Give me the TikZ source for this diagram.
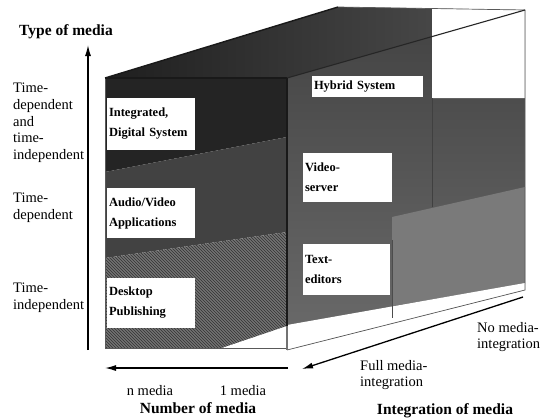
\documentclass[tikz,border=0pt]{standalone}
\usepackage{fontspec}
\setmainfont{Liberation Serif}
\usetikzlibrary{arrows.meta,patterns}
\begin{document}
\begin{tikzpicture}[x=1pt,y=-1pt,
  axislbl/.style={font=\fontsize{14.5}{16.6}\selectfont, align=left, inner sep=0pt, anchor=north west},
  axistitle/.style={font=\fontsize{15.5}{17}\selectfont\bfseries, inner sep=0pt},
  ticklbl/.style={font=\fontsize{14.5}{16.6}\selectfont, inner sep=0pt},
  lblbox/.style={fill=white, inner xsep=2pt, inner ysep=0pt, align=left, font=\fontsize{12.5}{20}\selectfont\bfseries},
  axisarrow/.style={line width=1.3pt, -{Latex[length=11pt,width=6pt]}},
  boxline/.style={draw=black!65, line width=0.7pt},
  darkline/.style={draw=black!90, line width=1.4pt}]
\useasboundingbox (0,0) rectangle (543,418);
% cube corners
\coordinate (FTL) at (105,78);
\coordinate (FTR) at (287,78);
\coordinate (FBL) at (105,348);
\coordinate (FBR) at (287,348);
\coordinate (BTL) at (338,7);
\coordinate (BTR) at (525,10);
\coordinate (BBR) at (525,290);
\coordinate (RBL) at (287,350);
% top face
\shade[left color=black!88, right color=black!68] (FTL) -- (BTL) -- (BTR) -- (FTR) -- cycle;
% right face
\shade[top color=black!74, bottom color=black!58] (FTR) -- (BTR) -- (BBR) -- (RBL) -- cycle;
\fill[black!52] (392,217) -- (525,187) -- (525,284) -- (392,306) -- cycle;
% front face bands
\fill[black!86] (105,78) -- (287,78) -- (287,137) -- (105,172) -- cycle;
\fill[black!74] (105,172) -- (287,137) -- (287,232) -- (105,258) -- cycle;
\fill[black!55] (105,258) -- (287,232) -- (287,348) -- (105,348) -- cycle;
\fill[pattern=north west lines, pattern color=black!80] (105,258) -- (287,232) -- (287,348) -- (105,348) -- cycle;
% white regions
\fill[white] (222,348) -- (287,348) -- (287,326) -- cycle;
\fill[white] (432,8.5) -- (525,10) -- (525,98) -- (432,98) -- cycle;
\fill[white] (287,350) -- (287,325) -- (525,283) -- (525,290) -- cycle;
% label boxes on front face
\node[lblbox, text width=84pt, minimum height=52pt] (ids) at (151,124) {Integrated,\\Digital System};
\node[lblbox, text width=84pt, minimum height=50pt] (ava) at (151,213) {Audio/Video\\Applications};
\node[lblbox, text width=84pt, minimum height=50pt] (dtp) at (151,303) {Desktop\\Publishing};
% label boxes on side face
\node[lblbox, text width=107pt, minimum height=21pt] (hyb) at (367.5,86.5) {Hybrid System};
\node[lblbox, text width=85pt, minimum height=49pt] (vsv) at (347.5,177.5) {Video-\\server};
\node[lblbox, text width=83pt, minimum height=51pt] (ted) at (346.5,269.5) {Text-\\editors};
% interior lines
\draw[black!75, line width=0.6pt] (432,98) -- (432,207);
\draw[black!70, line width=0.6pt] (392,240) -- (392,318);
% outline
\draw[boxline] (BTL) -- (BTR) -- (BBR) -- (RBL);
\draw[boxline] (FTL) -- (FBL) -- (FBR);
\draw[darkline] (FTL) -- (BTL);
\draw[darkline] (FTL) -- (FTR);
\draw[black!85, line width=1.1pt] (FTR) -- (BTR);
\draw[darkline] (FTR) -- (287,326);
\draw[black!55, line width=1.2pt] (287,326) -- (RBL);
% axes
\coordinate (vA) at (88,350);
\coordinate (vB) at (88,45);
\coordinate (hA) at (288,368);
\coordinate (hB) at (105,368);
\coordinate (dA) at (523,297);
\coordinate (dB) at (302,369);
\draw[axisarrow] (vA) -- (vB);
\draw[axisarrow] (hA) -- (hB);
\draw[axisarrow] (dA) -- (dB);
% axis labels
\node[axistitle] (tmedia) at (66,32) {Type of media};
\node[axislbl] (l1) at (13,83) {Time-\\dependent\\and\\time-\\independent};
\node[axislbl] (l2) at (13,193) {Time-\\dependent};
\node[axislbl] (l3) at (13,283) {Time-\\independent};
\node[ticklbl] (nm) at (150,391) {n media};
\node[ticklbl] (om) at (243,391) {1 media};
\node[axistitle] (nom) at (198,408) {Number of media};
\node[axislbl] (full) at (360,360) {Full media-\\integration};
\node[axislbl] (nomi) at (477,322) {No media-\\integration};
\node[axistitle] (iom) at (445,411) {Integration of media};
\end{tikzpicture}
\end{document}
